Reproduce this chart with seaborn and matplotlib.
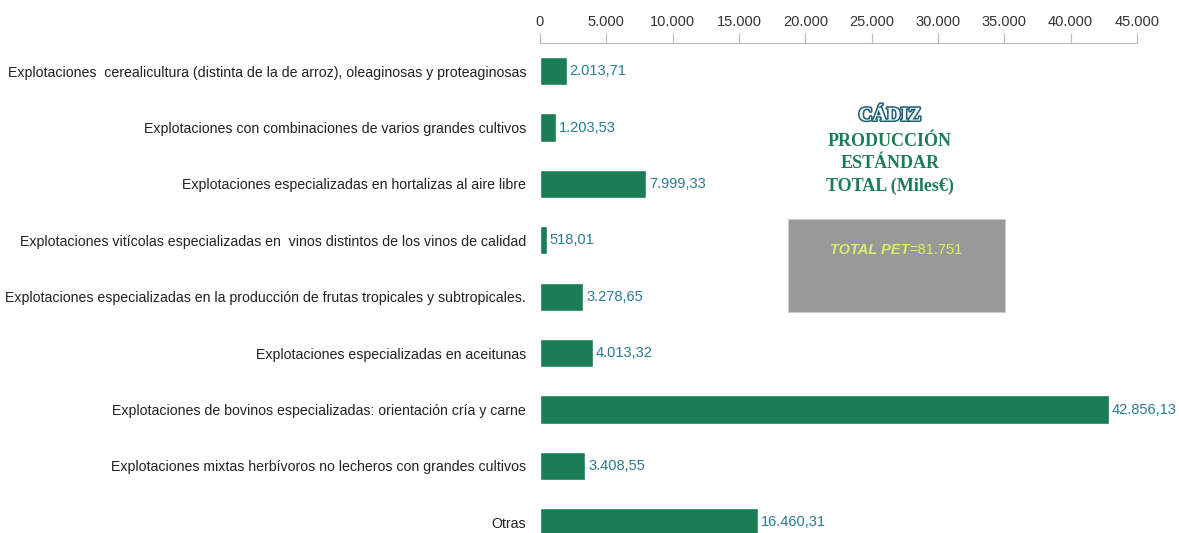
import matplotlib
matplotlib.use("Agg")
import matplotlib.pyplot as plt
import matplotlib.patheffects as pe
from matplotlib.patches import Rectangle
import pandas as pd
import seaborn as sns

categorias = [
    "Explotaciones  cerealicultura (distinta de la de arroz), oleaginosas y proteaginosas",
    "Explotaciones con combinaciones de varios grandes cultivos",
    "Explotaciones especializadas en hortalizas al aire libre",
    "Explotaciones vitícolas especializadas en  vinos distintos de los vinos de calidad",
    "Explotaciones especializadas en la producción de frutas tropicales y subtropicales.",
    "Explotaciones especializadas en aceitunas",
    "Explotaciones de bovinos especializadas: orientación cría y carne",
    "Explotaciones mixtas herbívoros no lecheros con grandes cultivos",
    "Otras",
]
valores = [2013.71, 1203.53, 7999.33, 518.01, 3278.65, 4013.32, 42856.13, 3408.55, 16460.31]
ticks_x = [0, 5000, 10000, 15000, 20000, 25000, 30000, 35000, 40000, 45000]

verde = "#1a7d55"
azul = "#2a7a94"


def fmt_es(v, dec=2):
    s = f"{v:,.{dec}f}"
    return s.replace(",", "X").replace(".", ",").replace("X", ".")


df = pd.DataFrame({"cat": categorias, "valor": valores})

sns.set_style("white")
plt.rcParams["font.family"] = ["Liberation Sans", "DejaVu Sans"]

fig = plt.figure(figsize=(11.79, 5.33), dpi=100)
ax = fig.add_axes([540 / 1179, 0, (1137 - 540) / 1179, 1 - 43 / 533])

sns.barplot(data=df, x="valor", y="cat", color=verde, saturation=1, width=0.5, ax=ax)

ax.set_xlim(0, 45000)
ax.set_ylim(8.19, -0.5)
ax.set_xticks(ticks_x)
ax.set_xticklabels([fmt_es(t, 0) for t in ticks_x], fontsize=10.5, color="#333333")
ax.xaxis.tick_top()
ax.tick_params(axis="x", direction="out", length=7, color="#bbbbbb", pad=3)
ax.tick_params(axis="y", length=0, labelsize=10.2, labelcolor="#222222", pad=10)
ax.set_xlabel("")
ax.set_ylabel("")
for s in ["bottom", "left", "right"]:
    ax.spines[s].set_visible(False)
ax.spines["top"].set_color("#bbbbbb")

ax.bar_label(ax.containers[0], labels=[fmt_es(v) for v in valores],
             color=azul, fontsize=10.5, padding=2)

# título y recuadro
fig.text(890 / 1179, 1 - 116 / 533, "CÁDIZ", ha="center", va="center",
         family="Liberation Serif", weight="bold", fontsize=14, color="#eef7fa",
         path_effects=[pe.Stroke(linewidth=2.2, foreground="#1f5f73"), pe.Normal()])
for yy, txt in [(141, "PRODUCCIÓN"), (163, "ESTÁNDAR"), (186, "TOTAL (Miles€)")]:
    fig.text(890 / 1179, 1 - yy / 533, txt, ha="center", va="center",
             family="Liberation Serif", weight="bold", fontsize=13, color=verde)

fig.patches.append(Rectangle((788 / 1179, 1 - 312 / 533), 217 / 1179, 93 / 533,
                             transform=fig.transFigure, facecolor="#999999",
                             edgecolor="#cccccc", linewidth=0.8))
t1 = fig.text(830 / 1179, 1 - 250 / 533, "TOTAL PET", ha="left", va="center",
              style="italic", weight="bold", fontsize=10.5, color="#d8ec6e")
fig.canvas.draw()
bb = t1.get_window_extent()
fig.text(bb.x1 / fig.bbox.width, 1 - 250 / 533, "=81.751", ha="left", va="center",
         fontsize=10.5, color="#d8ec6e")

fig.savefig("out.png", dpi=100)
